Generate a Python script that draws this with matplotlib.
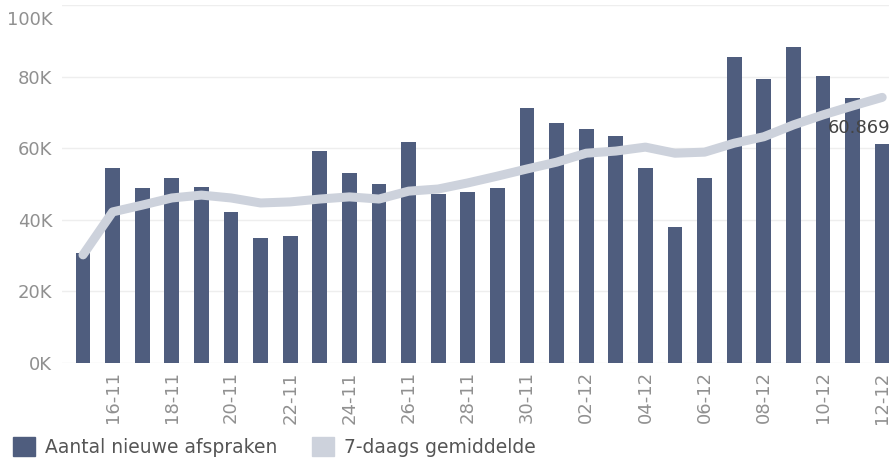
import matplotlib
matplotlib.use("Agg")
import matplotlib.pyplot as plt
from matplotlib.patches import Patch
from matplotlib.transforms import ScaledTranslation
import numpy as np

dates = ["15-11", "16-11", "17-11", "18-11", "19-11", "20-11", "21-11", "22-11",
         "23-11", "24-11", "25-11", "26-11", "27-11", "28-11", "29-11", "30-11",
         "01-12", "02-12", "03-12", "04-12", "05-12", "06-12", "07-12", "08-12",
         "09-12", "10-12", "11-12", "12-12"]
new_appointments = [30700, 54400, 48800, 51600, 49300, 42300, 35000, 35500,
                    59200, 53200, 49900, 61600, 47100, 47900, 48800, 71300,
                    67100, 65400, 63400, 54400, 37900, 51600, 85500, 79300,
                    88300, 80200, 74000, 61200]
avg_7day = [30200, 42200, 44100, 46100, 46900, 46100, 44700, 45000,
            45800, 46400, 45800, 48000, 48600, 50300, 52200, 54200,
            56100, 58600, 59200, 60300, 58600, 58900, 61400, 63200,
            66500, 69300, 71800, 74200]
yticks = [0, 20000, 40000, 60000, 80000, 100000]
ytick_labels = ["0K", "20K", "40K", "60K", "80K", "100K"]
annotation_text = "60.869"

bar_color = "#4f5d7e"
line_color = "#cdd2dc"
tick_color = "#909090"

plt.rcParams['font.family'] = ['DejaVu Sans']

fig = plt.figure(figsize=(8.89, 4.61), dpi=100)
ax = fig.add_axes([62/889, 1-363/461, 1-62/889, (363-5)/461])

x = np.arange(len(dates))
ax.bar(x, new_appointments, width=0.5, color=bar_color, zorder=2)
ax.plot(x, avg_7day, color=line_color, lw=6.5, solid_capstyle='round',
        solid_joinstyle='round', zorder=3)

ax.set_xlim(-0.71, 27.23)
ax.set_ylim(0, 100000)
ax.set_yticks(yticks)
ax.set_yticklabels(ytick_labels)
ax.grid(axis='y', color='#eeeeee', lw=1, zorder=0)
ax.set_xticks(x[1::2])
ax.set_xticklabels(dates[1::2], rotation=90)
for s in ax.spines.values():
    s.set_visible(False)
ax.tick_params(axis='both', length=0, colors=tick_color, labelsize=13)
ax.tick_params(axis='y', pad=7)
ax.tick_params(axis='x', pad=6)

for lbl in ax.get_yticklabels():
    if lbl.get_text() == "100K":
        lbl.set_verticalalignment('top')
        lbl.set_transform(lbl.get_transform() +
                          ScaledTranslation(0, -4/72, fig.dpi_scale_trans))

ax.text(25.17, 65600, annotation_text, ha='left', va='center', fontsize=13,
        color='#444444', clip_on=False, zorder=4)

handles = [Patch(color=bar_color, label="Aantal nieuwe afspraken"),
           Patch(color=line_color, label="7-daags gemiddelde")]
fig.legend(handles=handles, loc='lower left', bbox_to_anchor=(13/889, 4/461), ncol=2,
           frameon=False, fontsize=13.5, handlelength=1.17, handleheight=1.17,
           handletextpad=0.53, columnspacing=1.87, labelcolor='#555555',
           borderaxespad=0, borderpad=0)

fig.savefig("out.png", dpi=100)
